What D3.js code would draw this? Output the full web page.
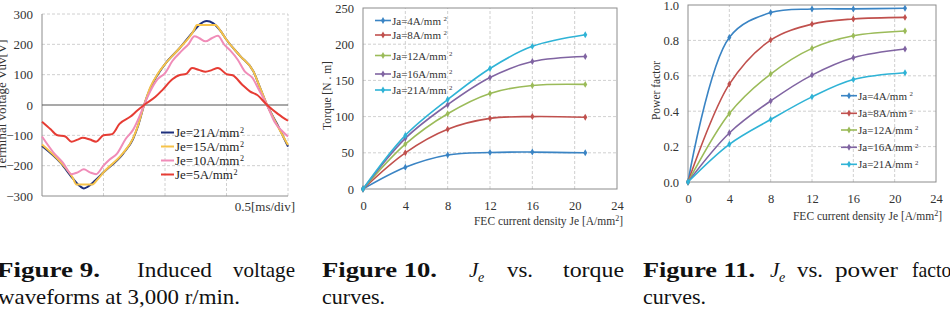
<!DOCTYPE html>
<html>
<head>
<meta charset="utf-8">
<script src="https://cdn.jsdelivr.net/npm/d3@7/dist/d3.min.js"></script>
<style>
  body { margin: 0; background: #fff; }
  svg { display: block; font-family: "Liberation Serif", serif; }
  svg text { font-family: "Liberation Serif", serif; }
</style>
</head>
<body>
<svg id="fig" width="950" height="324"></svg>
<script>
// ---- Figure 9 : induced voltage waveforms, [time ms, voltage V]
const waveJe21 = [[0,-135],[0.15,-190],[0.25,-242],[0.31,-268],[0.34,-275],[0.37,-270],[0.43,-250],[0.50,-222],[0.66,-160],[0.74,-112],[0.78,-70],[0.83,0],[0.88,55],[0.94,100],[1.0,135],[1.12,188],[1.23,242],[1.28,265],[1.34,277],[1.39,270],[1.45,245],[1.50,215],[1.61,162],[1.72,110],[1.77,60],[1.83,0],[1.91,-62],[2.0,-137]];
const waveJe15 = [[0,-130],[0.15,-188],[0.25,-240],[0.28,-262],[0.41,-262],[0.45,-246],[0.50,-222],[0.66,-158],[0.74,-110],[0.78,-68],[0.83,0],[0.88,58],[0.94,102],[1.0,135],[1.12,188],[1.23,242],[1.26,264],[1.41,264],[1.45,245],[1.50,215],[1.61,162],[1.72,110],[1.77,60],[1.83,0],[1.91,-65],[2.0,-132]];
const waveJe10 = [[0,-104],[0.09,-155],[0.17,-190],[0.24,-228],[0.29,-222],[0.34,-212],[0.39,-222],[0.44,-228],[0.50,-200],[0.55,-180],[0.61,-160],[0.68,-112],[0.74,-82],[0.79,-40],[0.83,0],[0.88,45],[0.94,85],[1.0,105],[1.06,145],[1.14,180],[1.19,200],[1.24,227],[1.28,220],[1.33,210],[1.38,220],[1.43,228],[1.48,200],[1.53,180],[1.59,150],[1.65,110],[1.71,90],[1.77,45],[1.83,0],[1.89,-55],[1.95,-85],[2.0,-104]];
const waveJe5 = [[0,-55],[0.07,-80],[0.12,-99],[0.19,-104],[0.24,-121],[0.29,-114],[0.33,-108],[0.39,-114],[0.44,-121],[0.50,-100],[0.57,-96],[0.63,-62],[0.72,-38],[0.77,-20],[0.83,0],[0.92,26],[0.98,50],[1.06,85],[1.12,99],[1.17,102],[1.22,122],[1.28,115],[1.33,110],[1.38,115],[1.43,122],[1.50,102],[1.55,98],[1.63,66],[1.69,45],[1.75,33],[1.83,0],[1.92,-30],[2.0,-52]];
const waveNames = ["Je=21A/mm", "Je=15A/mm", "Je=10A/mm", "Je=5A/mm"];
const voltTicks = [-300, -200, -100, 0, 100, 200, 300];
const timeGrid = [0, 0.5, 1.0, 1.5, 2.0];

// ---- Figure 10 / 11 : FEC current density Je
const jeValues = [0, 4, 8, 12, 16, 21];
const jaNames = ["Ja=4A/mm", "Ja=8A/mm", "Ja=12A/mm", "Ja=16A/mm", "Ja=21A/mm"];
const torqueJa4 = [0, 30, 47, 50.5, 51, 50];
const torqueJa8 = [0, 50, 82.5, 97.5, 100, 99];
const torqueJa12 = [0, 62, 104, 132, 143, 144.5];
const torqueJa16 = [0, 70, 116.5, 154, 176, 183];
const torqueJa21 = [0, 74, 123.5, 166.5, 197, 213];
const pfJa4 = [0, 0.817, 0.957, 0.977, 0.978, 0.982];
const pfJa8 = [0, 0.553, 0.802, 0.892, 0.921, 0.930];
const pfJa12 = [0, 0.387, 0.610, 0.755, 0.826, 0.853];
const pfJa16 = [0, 0.277, 0.458, 0.604, 0.702, 0.751];
const pfJa21 = [0, 0.213, 0.353, 0.481, 0.579, 0.617];
const jeTicks = [0, 4, 8, 12, 16, 20, 24];
const torqueTicks = [0, 50, 100, 150, 200, 250];
const pfTicks = [0, 0.2, 0.4, 0.6, 0.8, 1.0];

const waveColors = ["#1d2f7c", "#f6c34a", "#f08cb8", "#e63c34"];
const jaColors = ["#3a84c4", "#c0504d", "#9bbb59", "#8064a2", "#2fb3d6"];

const svg = d3.select('#fig');
const serif = 'Liberation Serif';
const gridColor = '#c4c4c4';
const frameColor = '#8c8c8c';

// superscript "2" after a label
const addLabel = (sel, text, size, gap) => {
    sel.append('tspan').text(text);
    sel.append('tspan').attr('font-size', size * 0.62).attr('dx', gap).attr('dy', -size * 0.33).text('2');
};

const gridLines = (g, x, y, xs, ys) => {
    g.selectAll('.vg').data(xs).enter().append('line')
        .attr('x1', (d) => x(d)).attr('x2', (d) => x(d))
        .attr('y1', y.range()[0]).attr('y2', y.range()[1])
        .attr('stroke', gridColor).attr('stroke-dasharray', '3,2').attr('stroke-width', 0.8);
    g.selectAll('.hg').data(ys).enter().append('line')
        .attr('x1', x.range()[0]).attr('x2', x.range()[1])
        .attr('y1', (d) => y(d)).attr('y2', (d) => y(d))
        .attr('stroke', gridColor).attr('stroke-dasharray', '3,2').attr('stroke-width', 0.8);
};

const frame = (g, x, y) => {
    g.append('rect')
        .attr('x', x.range()[0]).attr('y', y.range()[1])
        .attr('width', x.range()[1] - x.range()[0]).attr('height', y.range()[0] - y.range()[1])
        .attr('fill', 'none').attr('stroke', frameColor).attr('stroke-width', 1);
};

// ================= Figure 9 =================
(() => {
    const x = d3.scaleLinear([0, 2], [42, 288]);
    const y = d3.scaleLinear([-300, 300], [196, 14]);
    const g = svg.append('g');
    gridLines(g, x, y, timeGrid.slice(1), voltTicks.filter((d) => d !== 0 && d !== -300));
    // left and bottom axis lines
    g.append('line').attr('x1', x(0)).attr('x2', x(0)).attr('y1', y(-300)).attr('y2', y(300))
        .attr('stroke', frameColor);
    g.append('line').attr('x1', x(0)).attr('x2', x(2)).attr('y1', y(-300)).attr('y2', y(-300))
        .attr('stroke', frameColor);
    g.append('line').attr('x1', x(0)).attr('x2', x(2)).attr('y1', y(0)).attr('y2', y(0))
        .attr('stroke', '#555').attr('stroke-width', 1.2);

    const yAxis = d3.axisLeft(y).tickValues(voltTicks).tickSize(0).tickPadding(9);
    g.append('g').attr('transform', `translate(${x(0)},0)`).call(yAxis)
        .attr('font-family', serif)
        .call((a) => a.select('.domain').remove())
        .selectAll('text').attr('font-size', 13).attr('fill', '#333');

    const line = d3.line().x((d) => x(d[0])).y((d) => y(d[1])).curve(d3.curveMonotoneX);
    const waves = [waveJe21, waveJe15, waveJe10, waveJe5];
    waves.forEach((w, i) => {
        g.append('path').datum(w).attr('d', line).attr('fill', 'none')
            .attr('stroke', waveColors[i]).attr('stroke-width', 2);
    });

    // legend
    const ly = [132.5, 146.5, 160.5, 174.5];
    waveNames.forEach((n, i) => {
        g.append('line').attr('x1', 161).attr('x2', 174).attr('y1', ly[i]).attr('y2', ly[i])
            .attr('stroke', waveColors[i]).attr('stroke-width', 2);
        const t = g.append('text').attr('x', 175).attr('y', ly[i] + 4.5)
            .attr('font-size', 13).attr('fill', '#222');
        addLabel(t, n, 13, 0.5);
    });

    g.append('text').attr('x', 295).attr('y', 211).attr('text-anchor', 'end')
        .attr('font-size', 13).attr('fill', '#333').text('0.5[ms/div]');
    g.append('text').attr('transform', 'translate(6,105) rotate(-90)').attr('text-anchor', 'middle')
        .attr('font-size', 13).attr('fill', '#333').text('Terminal voltage Vuv[V]');
})();

// ================= Figure 10 / 11 =================
const drawJe = (x, y, yTicks, series, yFmt, yLabel, yLabelX, tickTop, xLabelY, legend) => {
    const g = svg.append('g');
    gridLines(g, x, y, jeTicks.slice(1, -1), yTicks.slice(1, -1));
    frame(g, x, y);

    const yAxis = d3.axisLeft(y).tickValues(yTicks).tickSize(0).tickPadding(9).tickFormat(yFmt);
    g.append('g').attr('transform', `translate(${x.range()[0]},0)`).call(yAxis)
        .attr('font-family', serif)
        .call((a) => a.select('.domain').remove())
        .selectAll('text').attr('font-size', 12.5).attr('fill', '#333');
    const xAxis = d3.axisBottom(x).tickValues(jeTicks).tickSize(0).tickPadding(0);
    g.append('g').attr('transform', `translate(0,${tickTop})`).call(xAxis)
        .attr('font-family', serif)
        .call((a) => a.select('.domain').remove())
        .selectAll('text').attr('font-size', 12.5).attr('fill', '#333');

    const xl = g.append('text').attr('x', x.range()[1] + 6).attr('y', xLabelY).attr('text-anchor', 'end')
        .attr('font-size', 11.5).attr('fill', '#333');
    xl.append('tspan').text('FEC current density Je [A/mm');
    xl.append('tspan').attr('font-size', 8).attr('dy', -4).text('2');
    xl.append('tspan').attr('dy', 4).text(']');
    g.append('text').attr('transform', `translate(${yLabelX},${(y.range()[0] + y.range()[1]) / 2 - 3}) rotate(-90)`)
        .attr('text-anchor', 'middle').attr('font-size', 11.5).attr('fill', '#333').text(yLabel);

    const line = d3.line().x((d, i) => x(jeValues[i])).y((d) => y(d)).curve(d3.curveCatmullRom.alpha(0.5));
    const marker = d3.symbol().type(d3.symbolDiamond).size(14);
    series.forEach((s, k) => {
        g.append('path').datum(s).attr('d', line).attr('fill', 'none')
            .attr('stroke', jaColors[k]).attr('stroke-width', 1.6);
        g.selectAll(null).data(s).enter().append('path')
            .attr('d', marker)
            .attr('transform', (d, i) => `translate(${x(jeValues[i])},${y(d)})`)
            .attr('fill', jaColors[k]);
    });

    jaNames.forEach((n, k) => {
        const ly = legend.y[k];
        g.append('line').attr('x1', legend.x).attr('x2', legend.x + 16).attr('y1', ly).attr('y2', ly)
            .attr('stroke', jaColors[k]).attr('stroke-width', 1.6);
        g.append('path').attr('d', marker).attr('transform', `translate(${legend.x + 8},${ly})`)
            .attr('fill', jaColors[k]);
        const t = g.append('text').attr('x', legend.x + 17).attr('y', ly + 4)
            .attr('font-size', 11).attr('fill', '#333');
        addLabel(t, n, 11, 2.5);
    });
};

drawJe(d3.scaleLinear([0, 24], [363, 617]), d3.scaleLinear([0, 250], [189, 8]), torqueTicks,
    [torqueJa4, torqueJa8, torqueJa12, torqueJa16, torqueJa21], d3.format('d'),
    'Torque [N . m]', 331, 201, 225, {x: 375, y: [20.5, 35, 55.5, 74, 90]});

drawJe(d3.scaleLinear([0, 24], [688, 936]), d3.scaleLinear([0, 1], [182, 5]), pfTicks,
    [pfJa4, pfJa8, pfJa12, pfJa16, pfJa21], d3.format('.1f'),
    'Power factor', 660, 194, 220, {x: 841, y: [95.7, 113.3, 130, 147.3, 164.3]});

// ================= captions =================
const cap = svg.append('g').attr('font-size', 21).attr('fill', '#111').attr('font-family', serif);
const word = (txt, x, y, len, bold) => {
    const t = cap.append('text').attr('x', x).attr('y', y).text(txt)
        .attr('textLength', len).attr('lengthAdjust', 'spacingAndGlyphs');
    if (bold) t.attr('font-weight', 'bold');
    return t;
};
const je = (x, y) => {
    cap.append('text').attr('x', x).attr('y', y).attr('font-style', 'italic').text('J');
    cap.append('text').attr('x', x + 9).attr('y', y + 5).attr('font-style', 'italic')
        .attr('font-size', 14).text('e');
};
const b1 = 277, b2 = 304;
word('Figure 9.', -3, b1, 103, true);
word('Induced', 137, b1, 75);
word('voltage', 233, b1, 62);
word('waveforms at 3,000 r/min.', -2, b2, 242);
word('Figure 10.', 322, b1, 115, true);
je(469, b1);
word('vs.', 507, b1, 26);
word('torque', 563, b1, 61);
word('curves.', 322, b2, 63);
word('Figure 11.', 643, b1, 112, true);
je(770, b1);
word('vs.', 797, b1, 26);
word('power', 835, b1, 63);
word('factor', 912, b1, 46);
word('curves.', 643, b2, 63);
</script>
</body>
</html>
